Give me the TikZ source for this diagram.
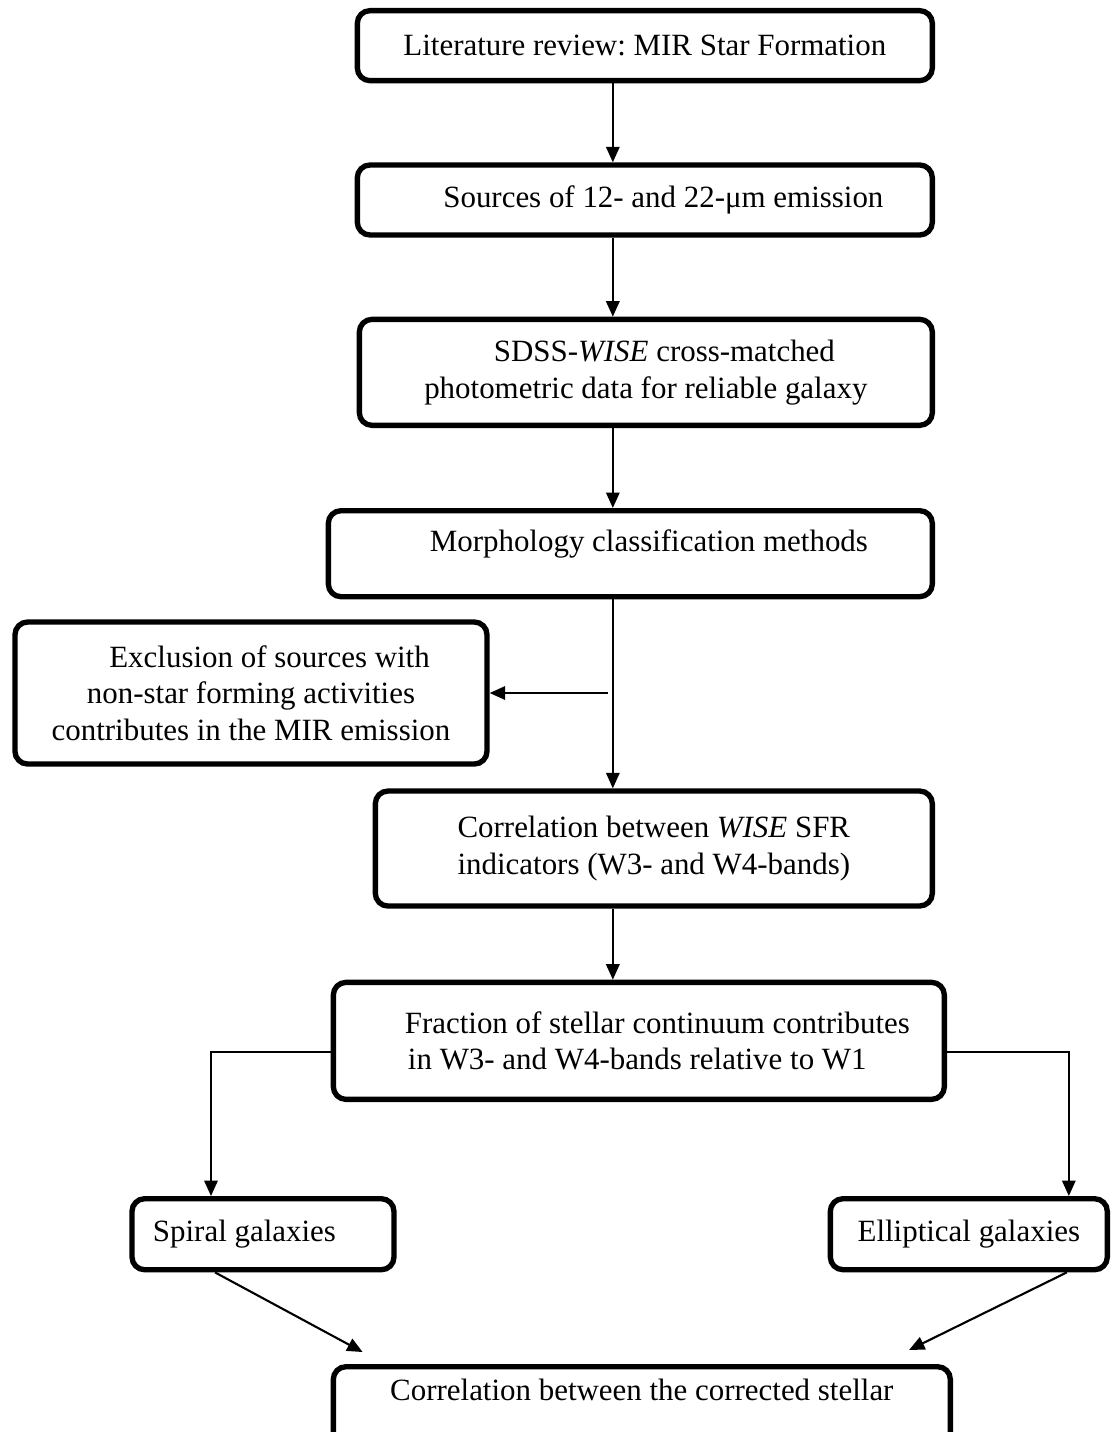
\documentclass[tikz,border=0pt]{standalone}
\usepackage{fontspec}
\setmainfont{Liberation Serif}
\usetikzlibrary{arrows.meta,positioning}

\begin{document}
\frenchspacing
\begin{tikzpicture}[
  font=\fontsize{22}{26}\selectfont,
  box/.style={draw, line width=3.8pt, rounded corners=9pt, align=center, fill=white},
  arrow/.style={-{Triangle[length=11pt,width=9.5pt]}, line width=1.5pt}
]
\useasboundingbox (0,0) rectangle (27.775,35.8);

\node[box, anchor=north east, minimum width=14.375cm, minimum height=1.75cm] (lit) at (23.375,35.6)
  {Literature review: MIR Star Formation};
\node[box, below=1.975cm of lit.south east, anchor=north east, minimum width=14.375cm, minimum height=1.75cm] (src)
  {\hspace*{1.2em}Sources of 12- and 22-μm emission};
\node[box, below=1.975cm of src.south east, anchor=north east, minimum width=14.325cm, minimum height=2.65cm] (sdss)
  {\hspace*{1.2em}SDSS-\textit{WISE} cross-matched\\photometric data for reliable galaxy};
\node[box, below=2cm of sdss.south east, anchor=north east, minimum width=15.1cm, minimum height=2.15cm, text depth=18pt] (morph)
  {\hspace*{1.2em}Morphology classification methods};
\node[box, below=0.5cm of morph.south west, anchor=north east, xshift=4.1cm, minimum width=11.8cm, minimum height=3.55cm] (excl)
  {\hspace*{1.2em}Exclusion of sources with\\non-star forming activities\\contributes in the MIR emission};
\node[box, below=4.725cm of morph.south east, anchor=north east, minimum width=13.925cm, minimum height=2.875cm] (corr)
  {Correlation between \textit{WISE} SFR\\indicators (W3- and W4-bands)};
\node[box, align=left, below=1.775cm of corr.south east, anchor=north east, xshift=0.3cm, minimum width=15.275cm, minimum height=2.925cm] (frac)
  {\hspace*{1.2em}Fraction of stellar continuum contributes\\\hspace*{1.3em}in W3- and W4-bands relative to W1};
\node[box, below=2.35cm of frac.south west, anchor=north east, xshift=1.65cm, minimum width=6.55cm, minimum height=1.775cm] (spiral)
  {Spiral galaxies\hspace*{1.2em}};
\node[box, below=2.35cm of frac.south east, anchor=north east, xshift=4.075cm, minimum width=6.925cm, minimum height=1.775cm] (ellip)
  {Elliptical galaxies};
\node[box, below=6.55cm of frac.south west, anchor=north west, minimum width=15.425cm, minimum height=2.125cm, text depth=28pt] (final)
  {Correlation between the corrected stellar};

% main spine
\coordinate (spine) at ([xshift=-0.8cm]lit.south);
\coordinate[xshift=-0.125cm] (tap) at (spine |- excl.east);

\draw[arrow] (lit.south -| spine) -- (src.north -| spine);
\draw[arrow] (src.south -| spine) -- (sdss.north -| spine);
\draw[arrow] (sdss.south -| spine) -- (morph.north -| spine);
\draw[arrow] (morph.south -| spine) -- (corr.north -| spine);
\draw[arrow] (tap) -- (excl.east);
\draw[arrow] (corr.south -| spine) -- (frac.north -| spine);

% split into the two samples
\draw[arrow] ([yshift=-0.275cm]frac.west) -| ([xshift=-1.3cm]spiral.north);
\draw[arrow] ([yshift=-0.275cm]frac.east) -| ([xshift=2.5cm]ellip.north);
\draw[arrow] ([xshift=-1.2cm]spiral.south) -- ([xshift=0.8cm,yshift=0.3cm]final.north west);
\draw[arrow] ([xshift=2.45cm]ellip.south) -- ([xshift=-1.1cm,yshift=0.35cm]final.north east);

\end{tikzpicture}
\end{document}
